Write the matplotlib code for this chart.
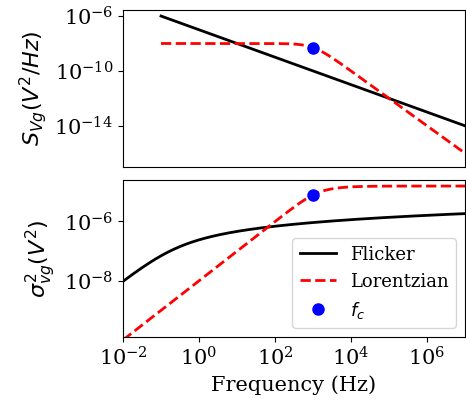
import numpy as np
import matplotlib
matplotlib.use("Agg")
import matplotlib.pyplot as plt

plt.rcParams['font.family'] = 'DejaVu Serif'
plt.rcParams['font.size'] = 13
plt.rcParams['xtick.labelsize'] = 15
plt.rcParams['ytick.labelsize'] = 15

# noise parameters
A_flicker = 1e-7      # flicker PSD amplitude (V^2)
f_min = 0.1           # lowest frequency of the flicker band (Hz)
S0 = 1e-8             # Lorentzian plateau (V^2/Hz)
fc = 1e3              # corner frequency (Hz)

f_psd = np.logspace(-1, 7, 400)
f_var = np.logspace(-2, 7, 400)

S_flicker = A_flicker / f_psd
S_lor = S0 / (1 + (f_psd / fc) ** 2)

var_flicker = A_flicker * np.log(1 + f_var / f_min)
var_lor = S0 * fc * np.arctan(f_var / fc)

fig = plt.figure(figsize=(4.66, 4.0), dpi=100)
ax1 = fig.add_axes([0.264, 0.5825, 0.734, 0.3925])
ax2 = fig.add_axes([0.264, 0.1575, 0.734, 0.3925])

ax1.loglog(f_psd, S_flicker, 'k-', lw=2, label='Flicker')
ax1.loglog(f_psd, S_lor, 'r--', lw=2, label='Lorentzian')
ax1.loglog(fc, S0 / 2, 'bo', ms=8, label='$f_c$')
ax1.set_xlim(1e-2, 1e7)
ax1.set_ylim(1e-17, 10 ** -5.56)
ax1.set_yticks([1e-6, 1e-10, 1e-14])
ax1.minorticks_off()
ax1.set_xticks([])
ax1.set_ylabel('$S_{Vg}(V^2/Hz)$', fontsize=16)

ax2.loglog(f_var, var_flicker, 'k-', lw=2, label='Flicker')
ax2.loglog(f_var, var_lor, 'r--', lw=2, label='Lorentzian')
ax2.loglog(fc, S0 * fc * np.pi / 4, 'bo', ms=8, label='$f_c$')
ax2.set_xlim(1e-2, 1e7)
ax2.set_ylim(10 ** -9.9, 10 ** -4.6)
ax2.set_xticks([1e-2, 1e0, 1e2, 1e4, 1e6])
ax2.set_yticks([1e-6, 1e-8])
ax2.minorticks_off()
ax2.set_xlabel('Frequency (Hz)', fontsize=15)
ax2.set_ylabel(r'$\sigma^2_{vg}(V^2)$', fontsize=16)
ax2.legend(loc='lower right', numpoints=1)

fig.savefig('out.png', dpi=100)
